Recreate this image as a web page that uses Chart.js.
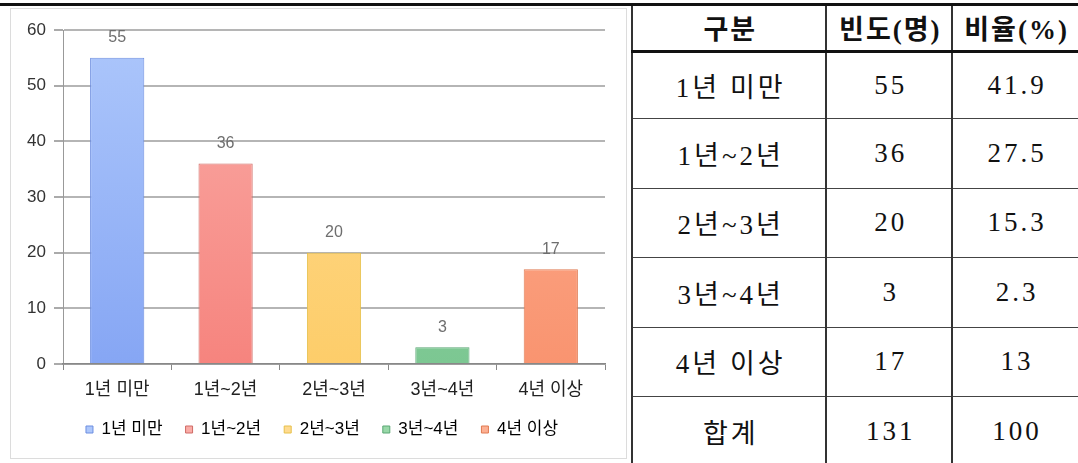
<!DOCTYPE html>
<html lang="ko">
<head>
<meta charset="utf-8">
<script src="https://cdn.jsdelivr.net/npm/chart.js@4.4.0/dist/chart.umd.min.js"></script>
<style>
  html, body { margin: 0; padding: 0; background: #fff; }
  .page { position: relative; width: 1078px; height: 463px; overflow: hidden; background: #fff; }
  .topline { position: absolute; left: 0; top: 3px; width: 1078px; height: 3px; background: #111; }
  .chart-box {
    position: absolute; left: 10px; top: 8px; width: 617px; height: 451px;
    box-sizing: border-box; border: 1px solid #dcdcdc; background: #fff;
  }
  .chart-box canvas { display: block; }
  table.freq {
    position: absolute; left: 631px; top: 6px;
    border-collapse: collapse; table-layout: fixed;
    font-family: 'Liberation Serif', 'Noto Sans CJK KR', serif;
    font-size: 27px; color: #111; letter-spacing: 3px;
  }
  table.freq td, table.freq th {
    border-left: 2px solid #333; border-right: 2px solid #333;
    border-bottom: 1px solid #444; text-align: center; padding: 0 0 0 3px;
  }
  table.freq th { font-weight: bold; border-bottom: 3px solid #111; letter-spacing: 2px; padding-left: 2px; }
  table.freq td:last-child, table.freq th:last-child { border-right: none; }
</style>
</head>
<body>
<div class="page">
  <div class="topline"></div>
  <div class="chart-box"><canvas id="periodChart" width="615" height="449"></canvas></div>
  <table class="freq" id="freqTable">
    <colgroup><col style="width:195px"><col style="width:126px"><col style="width:126px"></colgroup>
    <tbody></tbody>
  </table>
</div>

<script>
  // 근무 기간별 빈도
  const categories = ['1년 미만', '1년~2년', '2년~3년', '3년~4년', '4년 이상'];
  const counts = [55, 36, 20, 3, 17];
  const ratios = ['41.9', '27.5', '15.3', '2.3', '13'];
  const headers = ['구분', '빈도(명)', '비율(%)'];
  const totalRow = ['합계', '131', '100'];
  const yTicks = [0, 10, 20, 30, 40, 50, 60];

  // bar colors (top, bottom, border)
  const topColors = ['#adc7fb', '#faaca7', '#ffdb90', '#98d8a8', '#fdb093'];
  const bottomColors = ['#86a6f4', '#f6847e', '#fdcd6a', '#7cc792', '#f99470'];
  const borderColors = ['#6d8ee0', '#cf6b66', '#e6c04a', '#5aa774', '#e07b52'];

  // table
  const tbody = document.querySelector('#freqTable tbody');
  const rowHeights = [45, 67, 70, 69, 70, 69, 70];
  const rows = [headers].concat(categories.map((c, i) => [c, String(counts[i]), ratios[i]]), [totalRow]);
  rows.forEach((r, ri) => {
    const tr = document.createElement('tr');
    tr.style.height = rowHeights[ri] + 'px';
    r.forEach(txt => {
      const cell = document.createElement(ri === 0 ? 'th' : 'td');
      cell.textContent = txt;
      tr.appendChild(cell);
    });
    tbody.appendChild(tr);
  });

  const chartFont = "'Liberation Sans', 'Noto Sans CJK KR', sans-serif";

  const valueLabels = {
    id: 'valueLabels',
    afterDatasetsDraw(chart) {
      const ctx = chart.ctx;
      const meta = chart.getDatasetMeta(0);
      ctx.save();
      ctx.font = '16px ' + chartFont;
      ctx.fillStyle = '#6e6e6e';
      ctx.textAlign = 'center';
      ctx.textBaseline = 'middle';
      meta.data.forEach((bar, i) => {
        ctx.fillText(String(counts[i]), bar.x, bar.y - 20);
      });
      ctx.restore();
    }
  };

  // legend sits a bit higher and more to the right than the layout gives it
  const legendShift = {
    id: 'legendShift',
    afterLayout(chart) {
      const l = chart.legend;
      l.top -= 6; l.bottom -= 6;
      l.left += 14; l.right += 14;
    }
  };

  function barFill(context) {
    const chart = context.chart;
    const area = chart.chartArea;
    const i = context.dataIndex;
    if (!area) return topColors[i];
    const g = chart.ctx.createLinearGradient(0, area.top, 0, area.bottom);
    g.addColorStop(0, topColors[i]);
    g.addColorStop(1, bottomColors[i]);
    return g;
  }

  new Chart(document.getElementById('periodChart'), {
    type: 'bar',
    data: {
      labels: categories,
      datasets: [{
        label: '빈도',
        data: counts,
        backgroundColor: barFill,
        borderColor: borderColors,
        borderWidth: 1,
        barPercentage: 0.5,
        categoryPercentage: 1.0
      }]
    },
    options: {
      responsive: false,
      animation: false,
      layout: { padding: { top: 21, right: 21, left: 0, bottom: 4 } },
      scales: {
        y: {
          min: 0,
          max: 60,
          afterBuildTicks: (axis) => { axis.ticks = yTicks.map(v => ({ value: v })); },
          afterFit: (axis) => { axis.width = 52; },
          border: { display: true, color: '#999', width: 1 },
          grid: { color: '#b5b5b5', lineWidth: 2, tickLength: 9, tickColor: '#aaa' },
          ticks: { color: '#333', padding: 8, font: { size: 17, family: chartFont } }
        },
        x: {
          afterFit: (axis) => { axis.height = 40; },
          border: { display: true, color: '#888', width: 1.5 },
          grid: { drawOnChartArea: false, tickLength: 6, tickColor: '#888', offset: true },
          ticks: { color: '#222', padding: 9, font: { size: 18, family: chartFont } }
        }
      },
      plugins: {
        tooltip: { enabled: false },
        legend: {
          position: 'bottom',
          labels: {
            boxWidth: 7,
            boxHeight: 7,
            padding: 23,
            color: '#8a8a8a',
            font: { size: 17, family: chartFont },
            generateLabels: () => categories.map((c, i) => ({
              text: c,
              fillStyle: topColors[i],
              strokeStyle: borderColors[i],
              lineWidth: 1,
              hidden: false,
              index: i
            }))
          }
        }
      }
    },
    plugins: [valueLabels, legendShift]
  });
</script>
</body>
</html>
